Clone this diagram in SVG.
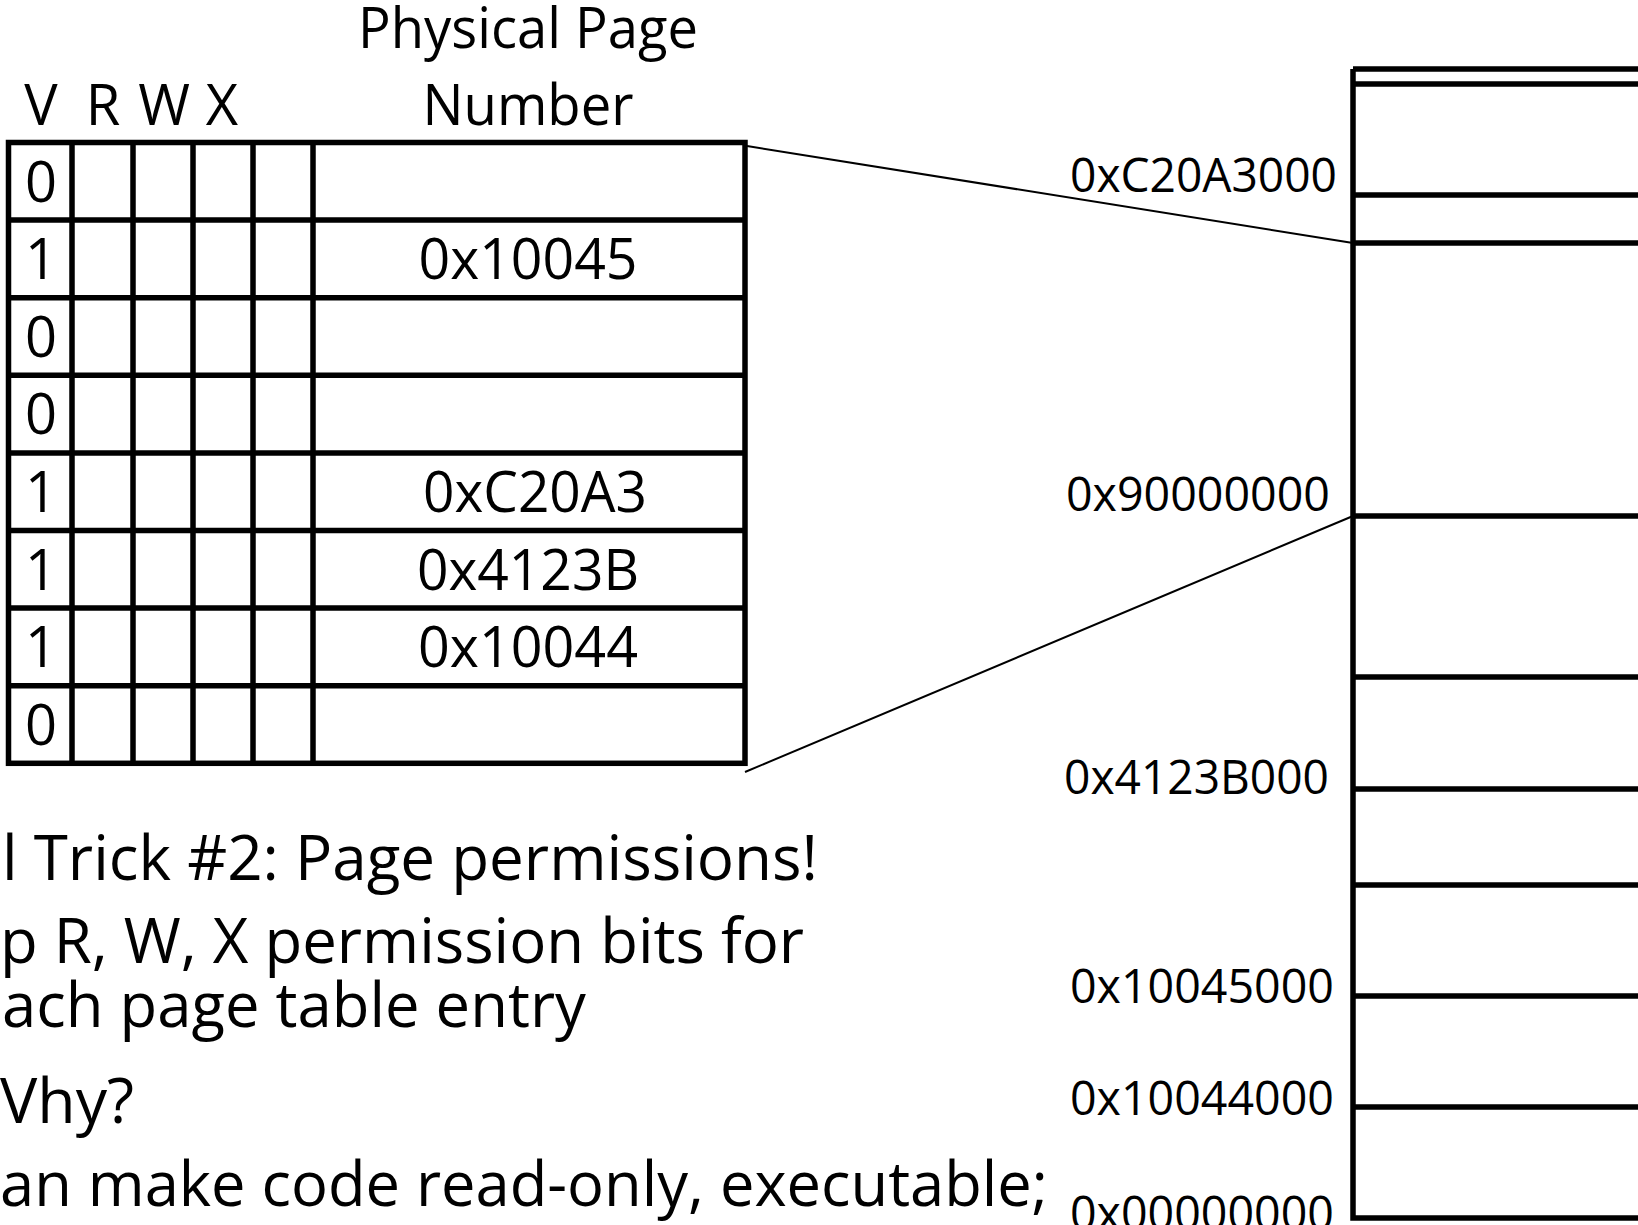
<svg xmlns="http://www.w3.org/2000/svg" width="1638" height="1225" viewBox="0 0 1638 1225">
<style>
text{font-family:"Open Sans","Noto Sans","Liberation Sans",sans-serif;fill:#000}
.hd{font-size:56px}
.cell{font-size:56px}
.lbl{font-size:48px}
.body{font-size:63px}
.grid{stroke:#000;stroke-width:5.5;fill:none}
.mem{stroke:#000;stroke-width:5.5;fill:none}
.conn{stroke:#000;stroke-width:2;fill:none}
</style>
<rect width="1638" height="1225" fill="#fff"/>
<g id="headers">
<text class="hd" x="528" y="48" text-anchor="middle" textLength="340" lengthAdjust="spacingAndGlyphs">Physical Page</text>
<text class="hd" x="528" y="125" text-anchor="middle" textLength="211" lengthAdjust="spacingAndGlyphs">Number</text>
<text class="hd" x="41" y="125" text-anchor="middle">V</text>
<text class="hd" x="103" y="125" text-anchor="middle">R</text>
<text class="hd" x="164" y="125" text-anchor="middle">W</text>
<text class="hd" x="222" y="125" text-anchor="middle">X</text>
</g>
<g id="page-table">
<rect class="grid" x="8.5" y="142.5" width="736.5" height="620.8"/>
<path class="grid" d="M72 142.5V763.3M133 142.5V763.3M193 142.5V763.3M253 142.5V763.3M313 142.5V763.3"/>
<path class="grid" d="M8.5 220.1H745M8.5 297.7H745M8.5 375.3H745M8.5 452.9H745M8.5 530.5H745M8.5 608.1H745M8.5 685.7H745"/>
<g id="pte-0"><text class="cell" x="41" y="201.5" text-anchor="middle">0</text></g>
<g id="pte-1"><text class="cell" x="41" y="279" text-anchor="middle">1</text><text class="cell" x="528" y="279" text-anchor="middle" textLength="219" lengthAdjust="spacingAndGlyphs">0x10045</text></g>
<g id="pte-2"><text class="cell" x="41" y="356.7" text-anchor="middle">0</text></g>
<g id="pte-3"><text class="cell" x="41" y="434.3" text-anchor="middle">0</text></g>
<g id="pte-4"><text class="cell" x="41" y="511.9" text-anchor="middle">1</text><text class="cell" x="535" y="511.9" text-anchor="middle" textLength="224" lengthAdjust="spacingAndGlyphs">0xC20A3</text></g>
<g id="pte-5"><text class="cell" x="41" y="589.5" text-anchor="middle">1</text><text class="cell" x="528" y="589.5" text-anchor="middle" textLength="222" lengthAdjust="spacingAndGlyphs">0x4123B</text></g>
<g id="pte-6"><text class="cell" x="41" y="667.1" text-anchor="middle">1</text><text class="cell" x="528" y="667.1" text-anchor="middle" textLength="220" lengthAdjust="spacingAndGlyphs">0x10044</text></g>
<g id="pte-7"><text class="cell" x="41" y="744.7" text-anchor="middle">0</text></g>
</g>
<g id="physical-memory">
<path class="mem" d="M1353 69V1218H1638"/>
<path class="mem" d="M1353 69H1638M1353 84H1638M1353 195H1638M1353 243H1638M1353 516H1638M1353 677H1638M1353 789H1638M1353 885H1638M1353 996H1638M1353 1107H1638"/>
</g>
<g id="addresses">
<text class="lbl" x="1070" y="192" textLength="267" lengthAdjust="spacingAndGlyphs">0xC20A3000</text>
<text class="lbl" x="1066" y="511" textLength="264" lengthAdjust="spacingAndGlyphs">0x90000000</text>
<text class="lbl" x="1064" y="794" textLength="265" lengthAdjust="spacingAndGlyphs">0x4123B000</text>
<text class="lbl" x="1070" y="1003" textLength="264" lengthAdjust="spacingAndGlyphs">0x10045000</text>
<text class="lbl" x="1070" y="1115" textLength="264" lengthAdjust="spacingAndGlyphs">0x10044000</text>
<text class="lbl" x="1070" y="1230" textLength="264" lengthAdjust="spacingAndGlyphs">0x00000000</text>
</g>
<g id="connectors">
<line class="conn" x1="747" y1="146" x2="1353" y2="243"/>
<line class="conn" x1="745" y1="772" x2="1353" y2="516"/>
</g>
<g id="notes">
<text class="body" x="2" y="880" textLength="816" lengthAdjust="spacingAndGlyphs">l Trick #2: Page permissions!</text>
<text class="body" x="0" y="963" textLength="804" lengthAdjust="spacingAndGlyphs">p R, W, X permission bits for</text>
<text class="body" x="2" y="1027" textLength="584" lengthAdjust="spacingAndGlyphs">ach page table entry</text>
<text class="body" x="0" y="1123" textLength="134" lengthAdjust="spacingAndGlyphs">Vhy?</text>
<text class="body" x="0" y="1206" textLength="1048" lengthAdjust="spacingAndGlyphs">an make code read-only, executable;</text>
</g>
</svg>
